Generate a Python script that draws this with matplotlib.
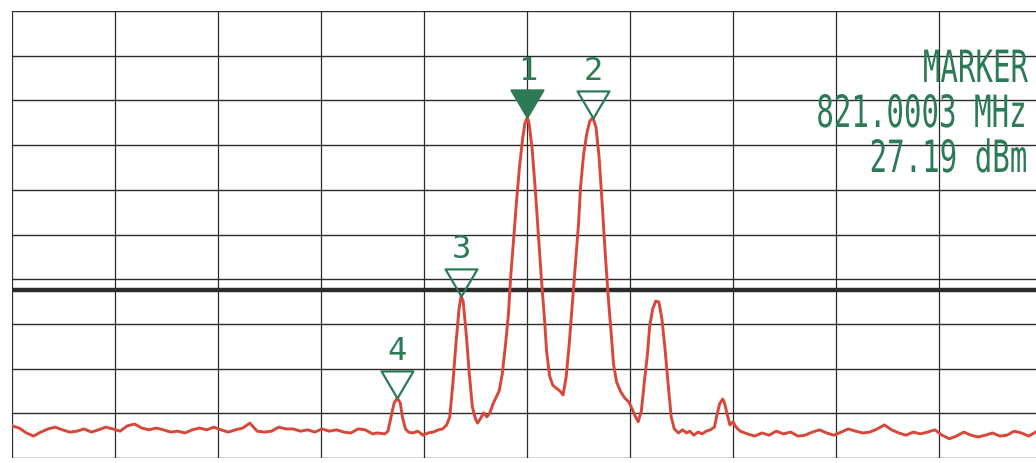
import matplotlib
matplotlib.use("Agg")
import matplotlib.pyplot as plt
import numpy as np
from matplotlib.path import Path
from matplotlib.transforms import Affine2D
from matplotlib.patheffects import AbstractPathEffect

# analyzer settings
center_mhz = 821.0
span_mhz = 1.0
ref_dbm = 51.0
db_per_div = 10.0
display_line_dbm = -11.4

# trace (offset from center in kHz, level in dBm)
noise_left_khz = [-500, -493, -486, -479, -472, -465, -458, -451, -444, -437, -430, -423, -416,
                  -409, -402, -395, -388, -381, -374, -367, -360, -353, -346, -339, -332, -325,
                  -318, -311, -304, -297, -290, -283, -276, -269, -262, -255, -248, -241, -234,
                  -227, -220, -213, -206, -199, -192, -185, -178, -171, -164, -157, -150, -145]
noise_left_dbm = [-41.8, -42.3, -43.4, -44.1, -43.2, -42.5, -42.1, -42.7, -43.2, -43.0, -42.5, -43.2, -42.7,
                  -42.1, -42.5, -43.0, -41.8, -41.4, -42.3, -42.7, -42.3, -42.7, -43.2, -43.0, -43.4, -42.7,
                  -42.3, -42.7, -42.1, -42.7, -43.2, -42.7, -42.3, -41.2, -43.0, -43.2, -43.0, -42.1, -42.5,
                  -42.5, -43.0, -42.7, -43.2, -42.5, -43.0, -42.7, -43.2, -43.4, -42.5, -42.7, -43.6, -43.4]

peaks_khz = [-138, -135, -132, -129, -126, -123, -121, -118, -115, -111, -106, -101, -96, -91, -86,
             -82, -78, -75, -72, -69, -66, -64, -62, -59, -56, -53, -50, -48, -45, -42, -39, -36,
             -33, -30, -27, -24, -21, -18, -16, -13, -10, -7, -4, -2, 0.3, 2, 5, 8, 11, 14, 17, 19,
             22, 25, 28, 32, 35, 38, 41, 44, 47, 50, 52, 55, 58, 61, 64, 67, 70, 73, 76, 79, 82,
             84, 87, 91, 95, 99, 102, 105, 108, 111, 114, 117, 119, 122, 125, 128, 131, 134, 137,
             140, 143, 147, 151, 155, 158, 162, 166, 170, 174, 178, 182, 184, 187, 190, 192, 194,
             197, 200, 203, 207]
peaks_dbm = [-43.6, -43.0, -39.8, -36.7, -35.6, -36.7, -39.8, -42.5, -43.2, -43.4, -43.0, -43.9, -43.4,
             -43.2, -42.7, -42.5, -41.6, -39.8, -32.4, -23.5, -15.7, -12.8, -13.9, -21.3, -30.2, -37.6,
             -40.3, -41.2, -40.1, -38.9, -39.8, -38.9, -36.9, -35.4, -34.0, -30.2, -23.9, -16.8, -9.0,
             0.0, 8.9, 16.8, 22.8, 25.9, 27.19, 25.9, 20.1, 11.2, 1.1, -9.0, -17.9, -25.1, -30.7, -32.7,
             -33.3, -34.0, -34.9, -30.9, -23.5, -14.6, -5.6, 3.3, 11.6, 19.0, 23.5, 26.4, 27.1, 25.0,
             18.3, 7.8, -3.4, -13.4, -21.9, -28.0, -32.0, -34.2, -35.6, -36.5, -38.0, -39.6, -40.9,
             -38.5, -31.8, -25.7, -19.7, -15.7, -13.9, -14.1, -17.9, -24.6, -32.4, -39.8, -42.5, -43.4,
             -42.7, -43.4, -43.0, -43.9, -43.2, -43.6, -43.0, -42.7, -42.1, -39.8, -36.9, -35.8, -36.9,
             -38.9, -41.6, -40.9, -42.1, -43.0]

noise_right_khz = [214, 221, 228, 235, 242, 249, 256, 263, 270, 277, 284, 291, 298, 305, 312, 319,
                   326, 333, 340, 347, 354, 361, 368, 375, 382, 389, 396, 403, 410, 417, 424, 431,
                   438, 445, 452, 459, 466, 473, 480, 487, 494, 500]
noise_right_dbm = [-43.6, -44.1, -43.4, -43.9, -43.0, -43.6, -43.2, -44.1, -43.9, -43.2, -42.7, -43.4,
                   -43.9, -43.2, -42.5, -43.0, -43.4, -43.2, -42.5, -41.6, -42.7, -43.4, -43.9, -43.2,
                   -43.6, -43.2, -42.7, -43.9, -44.7, -44.1, -43.2, -43.9, -44.3, -43.9, -43.4, -44.1,
                   -43.9, -43.0, -43.4, -44.1, -43.2, -42.1]

# markers
marker_ids = ["1", "2", "3", "4"]
marker_khz = [0.3, 64, -64, -126]
marker_dbm = [27.19, 27.1, -12.8, -35.6]
marker_filled = [True, False, False, False]

green = "#2c7a56"
red = "#d6483a"
ink = "#2b2b2b"


class Squeeze(AbstractPathEffect):
    """narrow the glyphs like the plotter font, keeping the right end in place"""
    def __init__(self, sx):
        super().__init__()
        self.sx = sx

    def draw_path(self, renderer, gc, tpath, affine, rgbFace=None):
        xr = tpath.get_extents().x1
        t = Affine2D().translate(-xr, 0).scale(self.sx, 1.0).translate(xr, 0)
        renderer.draw_path(gc, tpath, t + affine, rgbFace)


W, H = 1036, 464
fig = plt.figure(figsize=(W / 100, H / 100), dpi=100)
fig.patch.set_facecolor("white")
ax = fig.add_axes([12 / W, 5 / H, 1030 / W, 447 / H])
ax.set_facecolor("white")

f_lo = center_mhz - span_mhz / 2
f_hi = center_mhz + span_mhz / 2
y_lo = ref_dbm - 10 * db_per_div
ax.set_xlim(f_lo, f_hi)
ax.set_ylim(y_lo, ref_dbm)

# graticule
for f in np.linspace(f_lo, f_hi, 11):
    ax.axvline(f, color=ink, lw=0.9, zorder=1)
for lv in np.linspace(y_lo, ref_dbm, 11):
    ax.axhline(lv, color=ink, lw=1.0, zorder=1)
ax.axhline(display_line_dbm, color=ink, lw=3.2, zorder=1)

# trace
khz = np.array(noise_left_khz + peaks_khz + noise_right_khz, dtype=float)
dbm = np.array(noise_left_dbm + peaks_dbm + noise_right_dbm)
ax.plot(center_mhz + khz / 1000.0, dbm, color=red, lw=2.1, zorder=3)

# marker triangles with the tip on the trace
tri = Path([(0, 0), (-1, 1.7), (1, 1.7), (0, 0)],
           [Path.MOVETO, Path.LINETO, Path.LINETO, Path.CLOSEPOLY])
for mid, mk, md, filled in zip(marker_ids, marker_khz, marker_dbm, marker_filled):
    mf = center_mhz + mk / 1000.0
    ax.plot([mf], [md], marker=tri, ms=39, mec=green, mew=1.6,
            mfc=green if filled else "none", ls="none", zorder=4)
    ax.annotate(mid, (mf, md), xytext=(0, 34), textcoords="offset points",
                ha="center", va="center", fontsize=23, family="DejaVu Sans Mono",
                color=green, zorder=5)

for sp in ax.spines.values():
    sp.set_visible(False)
ax.set_xticks([])
ax.set_yticks([])

# marker readout (top right)
readout = ["MARKER",
           f"{center_mhz + marker_khz[0] / 1000.0:.4f} MHz",
           f"{marker_dbm[0]:.2f} dBm"]
right_px = 1028
baselines_px = [83, 128, 173]
for line, base in zip(readout, baselines_px):
    fig.text(right_px / W, (H - base) / H, line, ha="right", va="baseline",
             family="DejaVu Sans Mono", fontsize=32, color=green,
             path_effects=[Squeeze(0.655)])

fig.savefig("out.png", dpi=100, facecolor="white")
